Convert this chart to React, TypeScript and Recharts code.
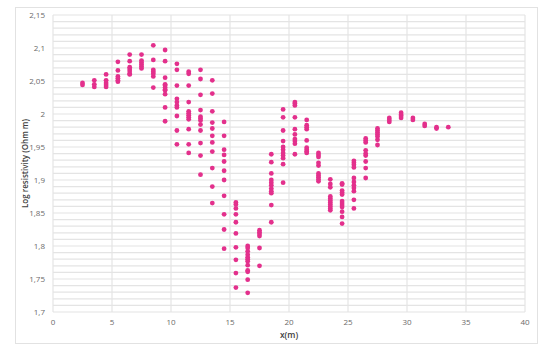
import { ScatterChart, Scatter, XAxis, YAxis, CartesianGrid } from 'recharts';

// x positions of the measurement columns (m)
const xPos = [
  2.5, 3.5, 4.5, 5.5, 6.5, 7.5, 8.5, 9.5, 10.5, 11.5, 12.5, 13.5, 14.5, 15.5, 16.5, 17.5,
  18.5, 19.5, 20.5, 21.5, 22.5, 23.5, 24.5, 25.5, 26.5, 27.5, 28.5, 29.5, 30.5, 31.5, 32.5, 33.5,
];

// log resistivity readings for each column, same order as xPos
const logRes: number[][] = [
  [2.047, 2.044],
  [2.051, 2.045, 2.041],
  [2.06, 2.051, 2.047, 2.044, 2.041],
  [2.079, 2.066, 2.057, 2.054, 2.051, 2.049],
  [2.09, 2.08, 2.071, 2.068, 2.065, 2.061, 2.06],
  [2.09, 2.081, 2.078, 2.075, 2.072, 2.069],
  [2.104, 2.082, 2.067, 2.064, 2.061, 2.057, 2.04],
  [2.097, 2.08, 2.055, 2.045, 2.043, 2.04, 2.037, 2.036, 2.03, 2.01, 1.989],
  [2.076, 2.067, 2.043, 2.023, 2.018, 2.013, 2.01, 1.997, 1.975, 1.954],
  [2.064, 2.061, 2.043, 2.018, 2.004, 2.001, 1.998, 1.995, 1.992, 1.977, 1.954, 1.941],
  [2.067, 2.053, 2.029, 2.006, 1.996, 1.993, 1.99, 1.984, 1.975, 1.956, 1.937, 1.908],
  [2.051, 2.031, 2.004, 1.987, 1.978, 1.967, 1.957, 1.943, 1.918, 1.89, 1.865],
  [1.988, 1.967, 1.946, 1.938, 1.928, 1.914, 1.9, 1.876, 1.848, 1.825, 1.796],
  [1.866, 1.863, 1.857, 1.848, 1.836, 1.819, 1.798, 1.779, 1.759, 1.737],
  [1.8, 1.797, 1.792, 1.787, 1.783, 1.78, 1.777, 1.771, 1.763, 1.761, 1.749, 1.729],
  [1.824, 1.821, 1.818, 1.815, 1.797, 1.77],
  [1.939, 1.927, 1.91, 1.9, 1.896, 1.892, 1.887, 1.883, 1.88, 1.862, 1.836],
  [2.007, 1.995, 1.975, 1.959, 1.95, 1.946, 1.941, 1.937, 1.933, 1.924, 1.896],
  [2.018, 2.016, 2.013, 1.995, 1.977, 1.969, 1.962, 1.959, 1.955, 1.939],
  [1.991, 1.983, 1.98, 1.977, 1.96, 1.949, 1.946, 1.943, 1.941],
  [1.941, 1.938, 1.935, 1.926, 1.922, 1.91, 1.907, 1.904, 1.901, 1.898],
  [1.901, 1.894, 1.889, 1.875, 1.872, 1.869, 1.866, 1.863, 1.86, 1.857, 1.854],
  [1.895, 1.893, 1.884, 1.881, 1.878, 1.868, 1.865, 1.862, 1.859, 1.852, 1.844, 1.834],
  [1.929, 1.926, 1.923, 1.919, 1.903, 1.897, 1.892, 1.888, 1.883, 1.87, 1.857],
  [1.963, 1.96, 1.957, 1.945, 1.94, 1.937, 1.928, 1.918, 1.903],
  [1.978, 1.975, 1.972, 1.969, 1.966, 1.961, 1.953],
  [1.994, 1.991, 1.988],
  [2.002, 1.999, 1.997, 1.994],
  [1.994, 1.991],
  [1.985, 1.982],
  [1.98, 1.978],
  [1.98],
];

const xTicks = [0, 5, 10, 15, 20, 25, 30, 35, 40];
// minor gridlines every 0.01, labels every 0.05
const yTicks = Array.from({ length: 46 }, (_, i) => Math.round((1.7 + i * 0.01) * 100) / 100);

const points = xPos.flatMap((x, i) => logRes[i].map((y) => ({ x, y })));

const font = '"Open Sans", sans-serif';

const fmtY = (v: number) => {
  const r = Math.round(v * 100);
  if (r % 5 !== 0) return '';
  return String(r / 100).replace('.', ',');
};

const Dot = (props: any) => <circle cx={props.cx} cy={props.cy} r={2.4} fill="#E3308C" />;

export default function App() {
  return (
    <div style={{ position: 'absolute', left: 0, top: 0, width: 550, height: 354, background: '#fff' }}>
      <div
        style={{
          position: 'absolute',
          left: 15,
          top: 7,
          width: 521,
          height: 335,
          border: '1px solid #e2e2e2',
        }}
      />
      <div style={{ position: 'absolute', left: 0, top: 0 }}>
        <ScatterChart width={550} height={354} margin={{ top: 15, right: 25, bottom: 12, left: 0 }}>
          <CartesianGrid stroke="#e4e4e4" strokeWidth={1.2} />
          <XAxis
            type="number"
            dataKey="x"
            domain={[0, 40]}
            ticks={xTicks}
            axisLine={false}
            tickLine={false}
            height={30}
            tick={{ fontSize: 8, fill: '#6a6a6a', fontFamily: font }}
            tickMargin={1}
            label={{
              value: 'x(m)',
              position: 'insideBottom',
              offset: 4,
              style: { fontSize: 8.5, fill: '#404040', fontFamily: font, fontWeight: 600 },
            }}
          />
          <YAxis
            type="number"
            dataKey="y"
            domain={[1.7, 2.15]}
            ticks={yTicks}
            interval={0}
            tickFormatter={fmtY}
            axisLine={false}
            tickLine={false}
            width={53}
            tick={{ fontSize: 8, fill: '#6a6a6a', fontFamily: font }}
            tickMargin={2}
            label={{
              value: 'Log resistivity (Ohm m)',
              angle: -90,
              position: 'insideLeft',
              offset: 25,
              style: { fontSize: 8, fill: '#404040', fontFamily: font, fontWeight: 600, textAnchor: 'middle' },
            }}
          />
          <Scatter data={points} shape={Dot} isAnimationActive={false} />
        </ScatterChart>
      </div>
    </div>
  );
}
